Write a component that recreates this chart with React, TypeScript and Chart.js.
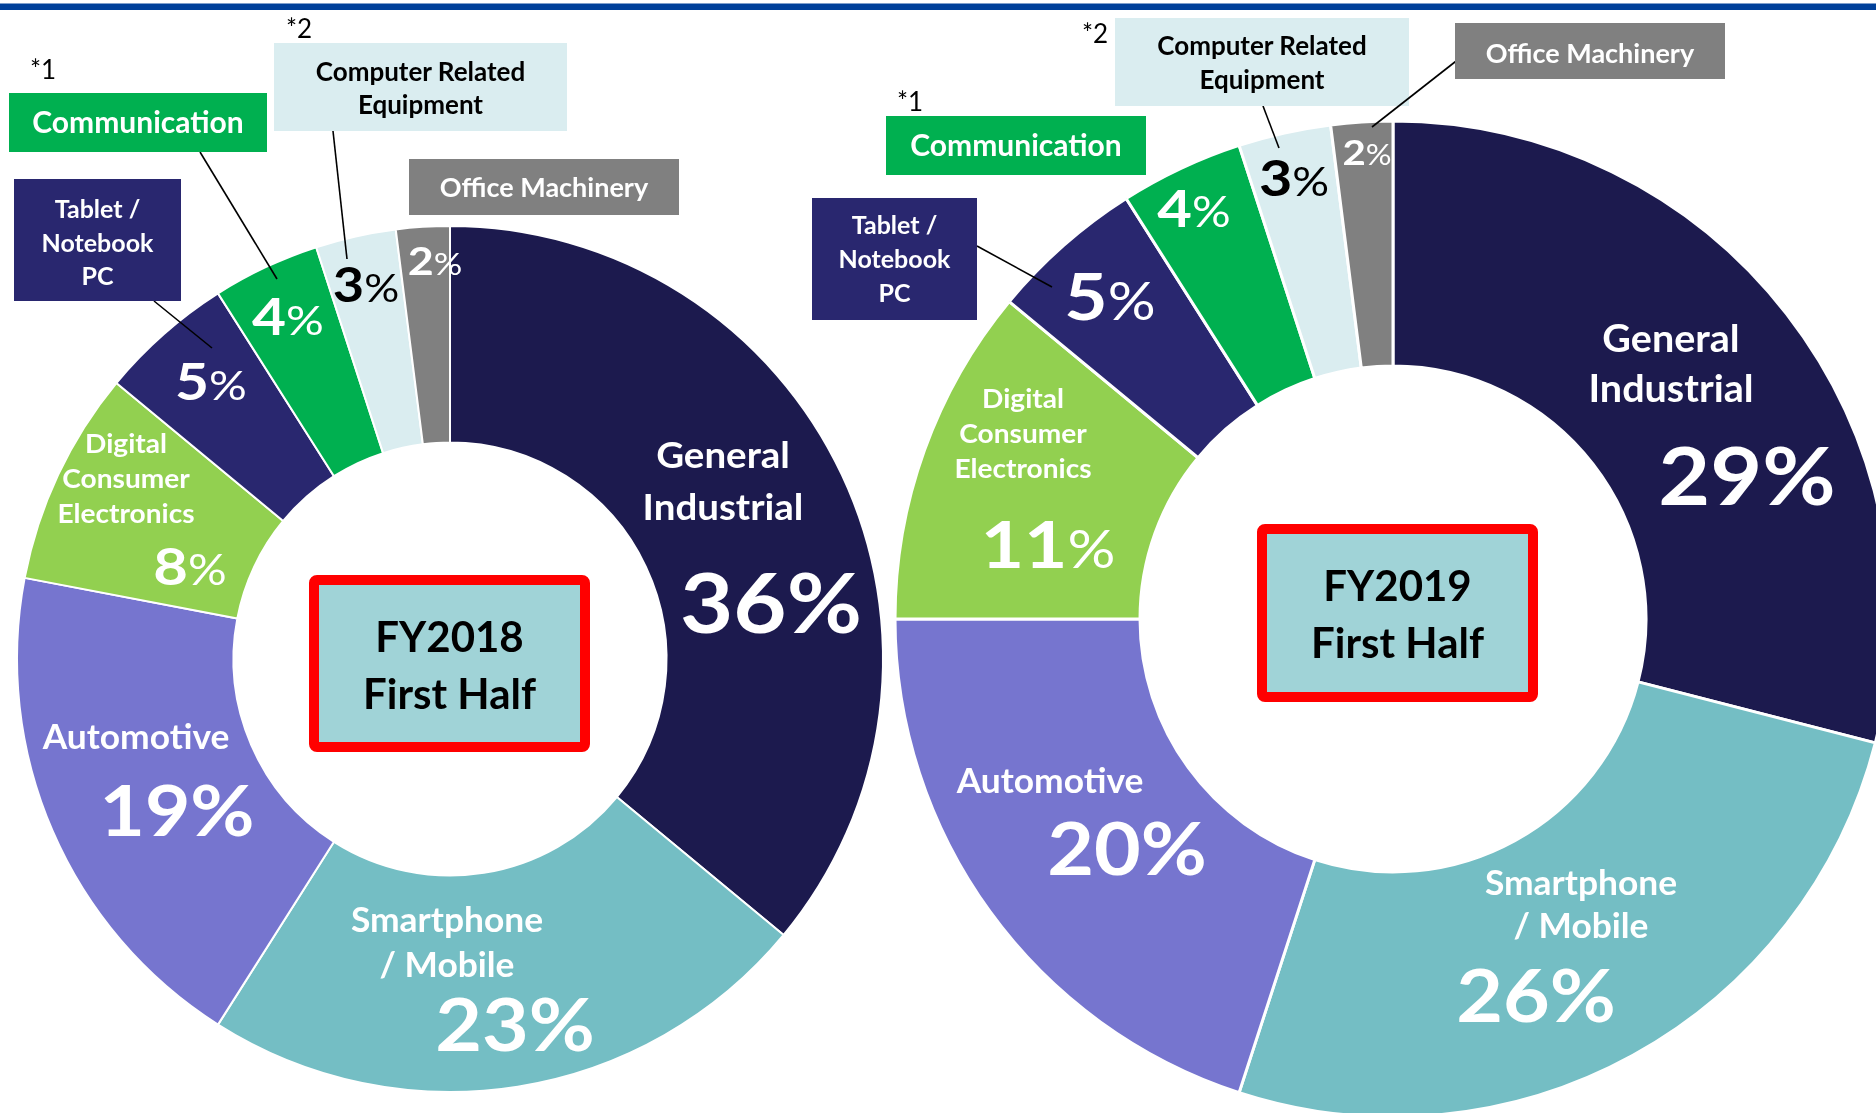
import React, { useEffect, useRef } from "react";
import { Chart, registerables } from "chart.js";

Chart.register(...registerables);

// ---------------- data ----------------
const categories = [
  "General Industrial",
  "Smartphone / Mobile",
  "Automotive",
  "Digital Consumer Electronics",
  "Tablet / Notebook PC",
  "Communication",
  "Computer Related Equipment",
  "Office Machinery",
];
const categoryLines = [
  ["General", "Industrial"],
  ["Smartphone", "/ Mobile"],
  ["Automotive"],
  ["Digital", "Consumer", "Electronics"],
  ["Tablet /", "Notebook", "PC"],
  ["Communication"],
  ["Computer Related", "Equipment"],
  ["Office Machinery"],
];
const values2018 = [36, 23, 19, 8, 5, 4, 3, 2];
const values2019 = [29, 26, 20, 11, 5, 4, 3, 2];
const periodLabels2018 = ["FY2018", "First Half"];
const periodLabels2019 = ["FY2019", "First Half"];
const footnoteMarks = ["*1", "*2"];

// ---------------- styles ----------------
const sliceColors = ["#1C1A4E", "#74BEC4", "#7675CF", "#92D050", "#29276F", "#00B050", "#DAEDF0", "#808080"];
const calloutText = ["#FFFFFF", "#FFFFFF", "#FFFFFF", "#FFFFFF", "#FFFFFF", "#FFFFFF", "#000000", "#FFFFFF"];
const FONT = "Lato, 'Open Sans', sans-serif";
const NAME_STRETCH = 1.04;
const BIG_STRETCH = 1.12;
const SMALL_STRETCH = 1.15;
const SMALL_PCT_RATIO = 0.8;

type NameLayout = { dx: number; ys: number[]; size: number } | null;
type PctLayout = { dx: number; y: number; size: number; small: boolean; color: string };

const leftNames: NameLayout[] = [
  { dx: 273, ys: [-191, -139], size: 37 },
  { dx: -3, ys: [273, 318], size: 34 },
  { dx: -314, ys: [90], size: 34 },
  { dx: -324, ys: [-206, -171, -136], size: 27 },
  null, null, null, null,
];
const leftPcts: PctLayout[] = [
  { dx: 321, y: -26, size: 82, small: false, color: "#FFFFFF" },
  { dx: 65, y: 392, size: 72, small: false, color: "#FFFFFF" },
  { dx: -273, y: 177, size: 70, small: false, color: "#FFFFFF" },
  { dx: -260, y: -74, size: 52, small: true, color: "#FFFFFF" },
  { dx: -239, y: -259, size: 51, small: true, color: "#FFFFFF" },
  { dx: -162, y: -324, size: 51, small: true, color: "#FFFFFF" },
  { dx: -84, y: -357, size: 47, small: true, color: "#000000" },
  { dx: -15, y: -384, size: 39, small: true, color: "#FFFFFF" },
];
const rightNames: NameLayout[] = [
  { dx: 278, ys: [-267, -217], size: 38 },
  { dx: 188, ys: [276, 319], size: 34 },
  { dx: -343, ys: [174], size: 34 },
  { dx: -370, ys: [-211, -176, -141], size: 27 },
  null, null, null, null,
];
const rightPcts: PctLayout[] = [
  { dx: 354, y: -114, size: 80, small: false, color: "#FFFFFF" },
  { dx: 143, y: 403, size: 72, small: false, color: "#FFFFFF" },
  { dx: -266, y: 256, size: 72, small: false, color: "#FFFFFF" },
  { dx: -345, y: -51, size: 65, small: true, color: "#FFFFFF" },
  { dx: -283, y: -299, size: 65, small: true, color: "#FFFFFF" },
  { dx: -199, y: -392, size: 52, small: true, color: "#FFFFFF" },
  { dx: -99, y: -423, size: 50, small: true, color: "#000000" },
  { dx: -26, y: -454, size: 35, small: true, color: "#FFFFFF" },
];

type Callout = {
  idx: number;
  x: number; y: number; w: number; h: number;
  size: number; ys: number[];
  star?: { i: number; x: number; y: number };
  leader?: number[];
};

const leftCallouts: Callout[] = [
  { idx: 4, x: 14, y: 179, w: 167, h: 122, size: 25, ys: [218, 252, 285], leader: [154, 301, 212, 348] },
  { idx: 5, x: 9, y: 93, w: 258, h: 59, size: 30, ys: [133], star: { i: 0, x: 30, y: 79 }, leader: [200, 152, 277, 279] },
  { idx: 6, x: 274, y: 43, w: 293, h: 88, size: 26, ys: [81, 114], star: { i: 1, x: 286, y: 38 }, leader: [333, 131, 347, 259] },
  { idx: 7, x: 409, y: 159, w: 270, h: 56, size: 27, ys: [197] },
];
const rightCallouts: Callout[] = [
  { idx: 4, x: 812, y: 198, w: 165, h: 122, size: 25, ys: [234, 268, 302], leader: [977, 246, 1052, 287] },
  { idx: 5, x: 886, y: 116, w: 260, h: 59, size: 30, ys: [156], star: { i: 0, x: 897, y: 111 } },
  { idx: 6, x: 1115, y: 18, w: 294, h: 88, size: 26, ys: [55, 89], star: { i: 1, x: 1082, y: 43 }, leader: [1263, 106, 1279, 148] },
  { idx: 7, x: 1455, y: 23, w: 270, h: 56, size: 27, ys: [63], leader: [1460, 58, 1372, 127] },
];

// ---------------- label plugin ----------------
function makeLabelPlugin(names: NameLayout[], pcts: PctLayout[]) {
  return {
    id: "sliceLabels",
    afterDatasetsDraw(chart: any) {
      const meta = chart.getDatasetMeta(0);
      if (!meta || !meta.data.length) return;
      const cx = meta.data[0].x;
      const cy = meta.data[0].y;
      const values: number[] = chart.data.datasets[0].data;
      const ctx: CanvasRenderingContext2D = chart.ctx;
      ctx.save();
      ctx.textBaseline = "alphabetic";
      names.forEach((n, i) => {
        if (!n) return;
        ctx.fillStyle = "#FFFFFF";
        ctx.textAlign = "center";
        ctx.font = `bold ${n.size}px ${FONT}`;
        categoryLines[i].forEach((line, k) => {
          ctx.save();
          ctx.translate(cx + n.dx, cy + n.ys[k]);
          ctx.scale(NAME_STRETCH, 1);
          ctx.fillText(line, 0, 0);
          ctx.restore();
        });
      });
      pcts.forEach((p, i) => {
        const num = String(values[i]);
        const bigFont = `bold ${p.size}px ${FONT}`;
        const pctSize = p.small ? Math.round(p.size * SMALL_PCT_RATIO) : p.size;
        const pctFont = `${p.small ? "" : "bold "}${pctSize}px ${FONT}`;
        const sx = p.small ? SMALL_STRETCH : BIG_STRETCH;
        ctx.font = bigFont;
        const w1 = ctx.measureText(num).width;
        ctx.font = pctFont;
        const w2 = ctx.measureText("%").width;
        ctx.save();
        ctx.translate(cx + p.dx, cy + p.y);
        ctx.scale(sx, 1);
        const x0 = -(w1 + w2) / 2;
        ctx.textAlign = "left";
        ctx.fillStyle = p.color;
        ctx.font = bigFont;
        ctx.fillText(num, x0, 0);
        ctx.font = pctFont;
        ctx.fillText("%", x0 + w1, 0);
        ctx.restore();
      });
      ctx.restore();
    },
  };
}

// ---------------- donut component ----------------
function Donut(props: {
  values: number[];
  names: NameLayout[];
  pcts: PctLayout[];
  cx: number; cy: number; radius: number; cutout: string; borderWidth: number;
}) {
  const ref = useRef<HTMLCanvasElement>(null);
  const half = props.radius + 10;
  const size = half * 2;
  useEffect(() => {
    if (!ref.current) return;
    let alive = true;
    const chart = new Chart(ref.current, {
      type: "doughnut",
      data: {
        labels: categories,
        datasets: [
          {
            data: props.values,
            backgroundColor: sliceColors,
            borderColor: "#FFFFFF",
            borderWidth: props.borderWidth,
          },
        ],
      },
      options: {
        responsive: false,
        animation: false,
        events: [],
        radius: props.radius,
        cutout: props.cutout,
        layout: { padding: 0 },
        plugins: { legend: { display: false }, tooltip: { enabled: false } },
      } as any,
      plugins: [makeLabelPlugin(props.names, props.pcts)],
    });
    if ((document as any).fonts && (document as any).fonts.load) {
      Promise.all([
        (document as any).fonts.load(`bold 40px Lato`),
        (document as any).fonts.load(`40px Lato`),
      ]).then(() => {
        if (alive) chart.update();
      }).catch(() => {});
    }
    return () => {
      alive = false;
      chart.destroy();
    };
  }, []);
  return (
    <canvas
      ref={ref}
      width={size}
      height={size}
      style={{ position: "absolute", left: props.cx - half, top: props.cy - half, width: size, height: size }}
    />
  );
}

function CalloutGroup({ items }: { items: Callout[] }) {
  return (
    <g>
      {items.map((c) => (
        <g key={c.idx}>
          {c.leader && (
            <line x1={c.leader[0]} y1={c.leader[1]} x2={c.leader[2]} y2={c.leader[3]} stroke="#000" strokeWidth={1.6} />
          )}
          <rect x={c.x} y={c.y} width={c.w} height={c.h} fill={sliceColors[c.idx]} />
          {categoryLines[c.idx].map((line, k) => (
            <text
              key={k}
              x={c.x + c.w / 2}
              y={c.ys[k]}
              textAnchor="middle"
              fontFamily={FONT}
              fontWeight="bold"
              fontSize={c.size}
              fill={calloutText[c.idx]}
            >
              {line}
            </text>
          ))}
          {c.star && (
            <text x={c.star.x} y={c.star.y} fontFamily={FONT} fontSize={26} fill="#000">
              {footnoteMarks[c.star.i]}
            </text>
          )}
        </g>
      ))}
    </g>
  );
}

function PeriodBox({ x, y, w, h, lines }: { x: number; y: number; w: number; h: number; lines: string[] }) {
  return (
    <g>
      <rect x={x + 5} y={y + 5} width={w - 10} height={h - 10} rx={3} fill="#A0D3D7" stroke="#FF0000" strokeWidth={10} />
      {lines.map((l, k) => (
        <text
          key={k}
          x={x + w / 2}
          y={y + h / 2 - 12 + k * 57}
          textAnchor="middle"
          fontFamily={FONT}
          fontWeight="bold"
          fontSize={42}
          fill="#000"
        >
          {l}
        </text>
      ))}
    </g>
  );
}

export default function App() {
  return (
    <div
      style={{
        position: "absolute",
        left: 0,
        top: 0,
        width: 1876,
        height: 1113,
        overflow: "hidden",
        background: "#FFFFFF",
      }}
    >
      <Donut values={values2018} names={leftNames} pcts={leftPcts} cx={450} cy={659} radius={433} cutout="50%" borderWidth={2} />
      <Donut values={values2019} names={rightNames} pcts={rightPcts} cx={1393} cy={619} radius={498} cutout="50.8%" borderWidth={3} />
      <svg width={1876} height={1113} style={{ position: "absolute", left: 0, top: 0, pointerEvents: "none" }}>
        <rect x={0} y={3.5} width={1876} height={6.5} fill="#00409A" />
        <CalloutGroup items={leftCallouts} />
        <CalloutGroup items={rightCallouts} />
        <PeriodBox x={309} y={575} w={281} h={177} lines={periodLabels2018} />
        <PeriodBox x={1257} y={524} w={281} h={178} lines={periodLabels2019} />
      </svg>
    </div>
  );
}
